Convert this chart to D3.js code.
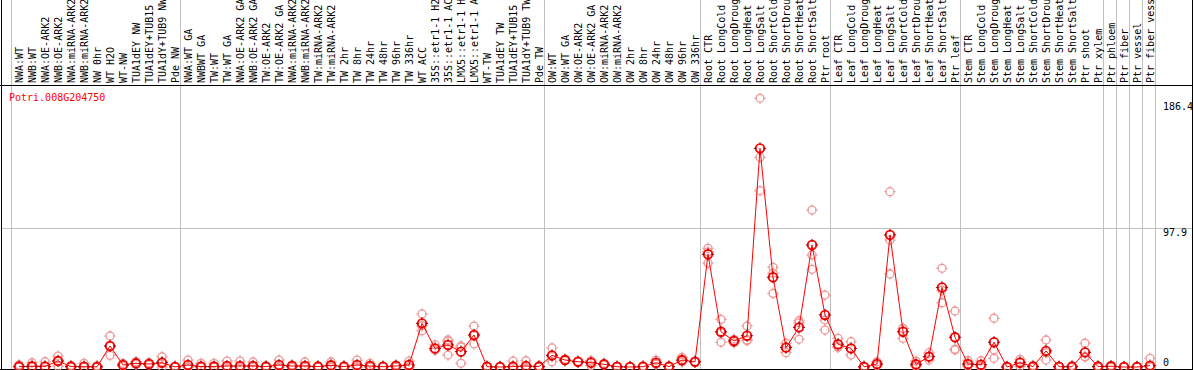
<!DOCTYPE html>
<html><head><meta charset="utf-8">
<script src="https://cdn.jsdelivr.net/npm/d3@7"></script>
<style>
html,body{margin:0;padding:0;background:#fff;}
svg{display:block;}
text{font-family:"DejaVu Sans Mono",monospace;font-size:10px;}
</style></head>
<body>
<svg id="chart" width="1194" height="370"></svg>
<script>
const geneName = "Potri.008G204750";
const groupSizes = [13, 28, 12, 10, 10, 11, 1, 1, 1, 1];
const categories = [
 "NWA:WT","NWB:WT","NWA:OE-ARK2","NWB:OE-ARK2","NWA:miRNA-ARK2","NWB:miRNA-ARK2","NW 0hr","WT H2O","WT-NW","TUA1dEY NW","TUA1dEY+TUB15","TUA1dY+TUB9 NW","Pde NW",
 "NWA:WT GA","NWBWT GA","TW:WT","TW:WT GA","NWA:OE-ARK2 GA","NWB:OE-ARK2 GA","TW:OE-ARK2","TW:OE-ARK2 GA","NWA:miRNA-ARK2","NWB:miRNA-ARK2","TW:miRNA-ARK2","TW:miRNA-ARK2","TW 2hr","TW 8hr","TW 24hr","TW 48hr","TW 96hr","TW 336hr","WT ACC","35S::etr1-1 H2","35S::etr1-1 AC","LMX5::etr1-1 H","LMX5::etr1-1 A","WT-TW","TUA1dEY TW","TUA1dEY+TUB15","TUA1dY+TUB9 TW","Pde TW",
 "OW:WT","OW:WT GA","OW:OE-ARK2","OW:OE-ARK2 GA","OW:miRNA-ARK2","OW:miRNA-ARK2","OW 2hr","OW 8hr","OW 24hr","OW 48hr","OW 96hr","OW 336hr",
 "Root CTR","Root LongCold","Root LongDroug","Root LongHeat","Root LongSalt","Root ShortCold","Root ShortDrou","Root ShortHeat","Root ShortSalt","Ptr root",
 "Leaf CTR","Leaf LongCold","Leaf LongDroug","Leaf LongHeat","Leaf LongSalt","Leaf ShortCold","Leaf ShortDrou","Leaf ShortHeat","Leaf ShortSalt","Ptr leaf",
 "Stem CTR","Stem LongCold","Stem LongDroug","Stem LongHeat","Stem LongSalt","Stem ShortCold","Stem ShortDrou","Stem ShortHeat","Stem ShortSalt","Ptr shoot","Ptr xylem",
 "Ptr phloem","Ptr fiber","Ptr vessel","Ptr fiber vess"
];
const meanValues = [
 0.3,0.5,0.4,4.2,0.3,0.2,0.1,14.8,1.4,2.6,2.1,3.0,0.1,
 1.4,0.3,0.3,0.7,0.7,0.7,0.3,1.4,0.7,0.7,0.3,1.2,0.3,1.4,0.7,0.2,0.7,1.4,30.7,13.1,15.5,10.8,22.5,0.2,0,0.3,0.7,0.3,
 8.2,4.9,3.7,3.0,1.9,0.2,0,0.2,3.0,0.3,4.9,3.7,
 79.3,24.8,18.3,22,153.8,63.1,13.6,27.9,85.8,36.6,
 16,13.1,0.1,2.1,92.9,24.8,1.9,7.3,56,20.9,
 2.1,1.6,17.4,0,3.0,0.3,11.3,0.2,0.2,10.3,0.3,
 0.5,0,0,1
];
const rep1 = [
 1.5,3.0,3.7,7.7,1.0,2.6,0.8,21.8,2.5,3.7,3.0,7.2,0.5,
 4.9,2.6,2.6,4.2,4.2,3.5,0.5,4.9,1.5,3.5,0.5,3.5,0.5,4.9,2.6,0.5,1.5,4.2,37.3,15.5,19,14.8,28.8,0.5,0.2,4.2,4.4,0.8,
 13.4,5.5,4.0,3.5,2.5,0.5,0.2,0.8,4.9,0.5,6.8,4.0,
 83.5,33.5,19.5,28.8,189,70.1,16.7,32.6,110.4,50.6,
 20.2,17.8,0.5,3.7,123.3,27.2,4.2,10,69.4,39.4,
 4.4,4.4,34.3,0.3,5.4,1.0,19,0.5,1.0,16.7,0.8,
 1.0,0.2,0.2,6.1
];
const rep2 = [
 0.2,0,0,0.5,0,0,0,8.2,1.0,2.0,1.5,3.7,0,
 0,0,0,0,0,0,0,0,0,0,0,0.5,0,0,0,0,0.5,0,25.5,12,8.4,2.6,16.2,0,0,0,0,0,
 3.7,4.5,3.5,1.0,1.5,0,0,0,2.0,0,3.5,3.5,
 73,17.4,17,18.5,147.5,51.8,10.1,19.5,68.7,26,
 14,8.4,0,1.5,89.3,20.2,1.0,7,45.2,12,
 1.5,0.5,12,0,3.5,0,4.9,0,0,7.3,0,
 0.5,0,0,0
];
const rep3 = [
 0,0,0,4.5,0,0,0,14.5,0.8,2.0,1.8,0,0,
 0,0,0,0,0,0,0,0,0,0,0,0,0,0,0,0,0,0,29,12,18,14,22,0,0,0,0,0,
 7.5,4.6,3.5,4.5,1.6,0,0,0,2.0,0,4.4,3.5,
 81,24,18.5,19,124,66,14,31,78.8,33,
 14,13,0,1.0,65.4,27,0.5,5,54,12.5,
 0.5,0,6.1,0,0.5,0,10,0,0,7,0,
 0,0,0,0
];
const yTicks = [0, 97.9, 186.4];

const svg = d3.select("#chart");
const W = 1194, H = 370;
const headerBottom = 85, plotBottom = 369;
const x = d3.scaleBand().domain(d3.range(categories.length)).range([11, 11 + 13 * categories.length]).padding(0);
const cx = i => x(i) + 8;
const y = d3.scaleLinear().domain([0, 186.4]).range([367, 102]);

// horizontal grid line at middle tick
svg.append("line").attr("x1", 1).attr("x2", 1193).attr("y1", Math.round(y(97.9)) + 0.5).attr("y2", Math.round(y(97.9)) + 0.5)
  .attr("stroke", "#c0c0c0").attr("stroke-width", 1);

// vertical group lines
let acc = 0;
const bounds = [0];
groupSizes.forEach(s => { acc += s; bounds.push(acc); });
svg.selectAll("line.vg").data(bounds).enter().append("line").attr("class", "vg")
  .attr("x1", d => Math.round(d === categories.length ? x(d - 1) + x.bandwidth() : x(d)) + 0.5)
  .attr("x2", d => Math.round(d === categories.length ? x(d - 1) + x.bandwidth() : x(d)) + 0.5)
  .attr("y1", 0).attr("y2", plotBottom).attr("stroke", "#c0c0c0").attr("stroke-width", 1);

// header labels
svg.selectAll("text.cat").data(categories).enter().append("text").attr("class", "cat")
  .attr("transform", (d, i) => `translate(${cx(i) + 3.6},83) rotate(-90)`)
  .attr("fill", "#000").text(d => d);

// borders
svg.append("line").attr("x1", 0).attr("x2", 1193).attr("y1", headerBottom + 0.5).attr("y2", headerBottom + 0.5).attr("stroke", "#000");
svg.append("line").attr("x1", 0).attr("x2", 1193).attr("y1", plotBottom + 0.5).attr("y2", plotBottom + 0.5).attr("stroke", "#000");
svg.append("line").attr("x1", 1.5).attr("x2", 1.5).attr("y1", 0).attr("y2", plotBottom + 1).attr("stroke", "#000");
svg.append("line").attr("x1", 1192.5).attr("x2", 1192.5).attr("y1", 0).attr("y2", plotBottom + 1).attr("stroke", "#000");

// title
svg.append("text").attr("x", 9).attr("y", 101).attr("fill", "#ff0000").text(geneName);

// y tick labels
svg.selectAll("text.yt").data(yTicks).enter().append("text").attr("class", "yt")
  .attr("x", 1163).attr("y", d => d === 0 ? 366 : y(d) + 8).attr("fill", "#000")
  .text(d => d === 0 ? "0" : d3.format(".1f")(d));

// marker helper
function marker(g, px, py, r, color, sw, tickColor) {
  g.append("circle").attr("cx", px).attr("cy", py).attr("r", r)
    .attr("fill", "none").attr("stroke", color).attr("stroke-width", sw);
  const t = 1.8;
  [[0, -1], [0, 1], [-1, 0], [1, 0]].forEach(([dx, dy]) => {
    g.append("line")
      .attr("x1", px + dx * (r - 1)).attr("y1", py + dy * (r - 1))
      .attr("x2", px + dx * (r + t)).attr("y2", py + dy * (r + t))
      .attr("stroke", tickColor).attr("stroke-width", 1);
  });
}

// replicates
const repG = svg.append("g");
[rep1, rep2, rep3].forEach(rep => {
  rep.forEach((v, i) => marker(repG, cx(i), y(v), 4, "#ee9999", 1.3, "#ee9999"));
});

// mean line
const line = d3.line().x((d, i) => cx(i)).y(d => y(d));
svg.append("path").datum(meanValues).attr("d", line).attr("fill", "none").attr("stroke", "#ff0000").attr("stroke-width", 1);

// mean markers
const meanG = svg.append("g");
meanValues.forEach((v, i) => marker(meanG, cx(i), y(v), 4.3, "#ff0000", 1.8, "#990000"));
</script>
</body></html>
